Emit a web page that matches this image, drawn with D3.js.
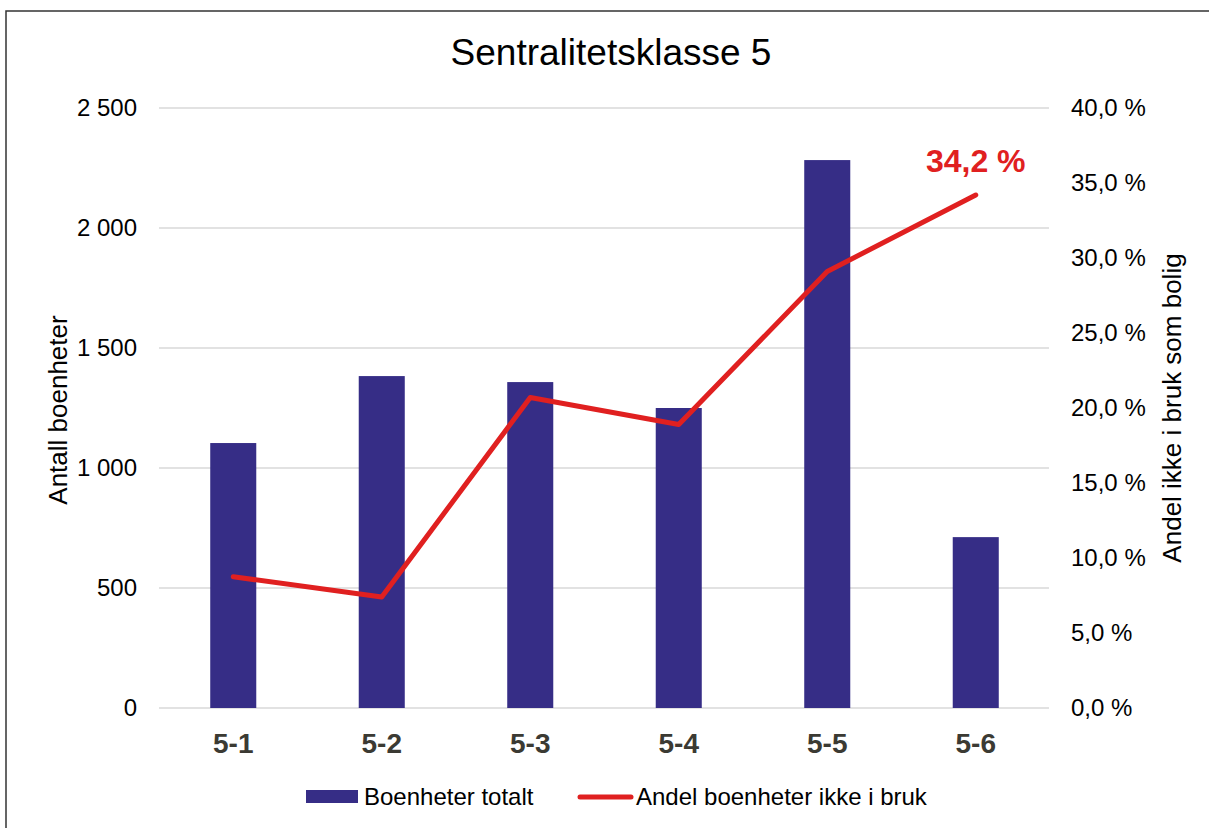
<!DOCTYPE html>
<html>
<head>
<meta charset="utf-8">
<script src="https://cdn.jsdelivr.net/npm/d3@7"></script>
<style>
  body { margin: 0; background: #fff; }
  text { font-family: "Liberation Sans", Arial, sans-serif; }
</style>
</head>
<body>
<div id="chart"></div>
<script>
// data
const categories = ["5-1", "5-2", "5-3", "5-4", "5-5", "5-6"];
const boenheterTotalt = [1104, 1383, 1358, 1250, 2283, 712];
const andelIkkeIBruk = [8.75, 7.4, 20.7, 18.9, 29.1, 34.2];
const leftTicks = [0, 500, 1000, 1500, 2000, 2500];
const rightTicks = [0, 5, 10, 15, 20, 25, 30, 35, 40];

const width = 1209, height = 828;
const margins = { top: 108, bottom: 120, left: 159, right: 159 };

const svg = d3.select("#chart").append("svg")
  .attr("width", width)
  .attr("height", height);

// frame (only top and left edges visible)
svg.append("path")
  .attr("d", "M6,828 V11 H1209")
  .attr("fill", "none")
  .attr("stroke", "#333")
  .attr("stroke-width", 1.5);

/** SCALES */
const xScale = d3.scaleBand()
  .domain(categories)
  .range([margins.left, width - margins.right])
  .paddingInner(0.69)
  .paddingOuter(0.345);

const xPoint = d => xScale(d) + xScale.bandwidth() / 2;

const yLeft = d3.scaleLinear()
  .domain([0, 2500])
  .range([height - margins.bottom, margins.top]);

const yRight = d3.scaleLinear()
  .domain([0, 40])
  .range([height - margins.bottom, margins.top]);

const fmtLeft = d => d3.format(",")(d).replace(",", " ");
const fmtRight = d => d3.format(".1f")(d).replace(".", ",") + " %";

// gridlines
svg.selectAll("line.grid")
  .data(leftTicks)
  .join("line")
  .attr("class", "grid")
  .attr("x1", margins.left)
  .attr("x2", width - margins.right - 1)
  .attr("y1", d => yLeft(d))
  .attr("y2", d => yLeft(d))
  .attr("stroke", "#d9d9d9")
  .attr("stroke-width", 1.5);

// title
svg.append("text")
  .attr("x", 611)
  .attr("y", 65)
  .attr("text-anchor", "middle")
  .attr("font-size", 37)
  .attr("fill", "#000")
  .text("Sentralitetsklasse 5");

// left axis labels
svg.selectAll("text.ltick")
  .data(leftTicks)
  .join("text")
  .attr("class", "ltick")
  .attr("x", 137)
  .attr("y", d => yLeft(d))
  .attr("dy", "0.35em")
  .attr("text-anchor", "end")
  .attr("font-size", 24)
  .attr("fill", "#000")
  .text(fmtLeft);

// right axis labels
svg.selectAll("text.rtick")
  .data(rightTicks)
  .join("text")
  .attr("class", "rtick")
  .attr("x", 1071)
  .attr("y", d => yRight(d))
  .attr("dy", "0.35em")
  .attr("text-anchor", "start")
  .attr("font-size", 24)
  .attr("fill", "#000")
  .text(fmtRight);

// axis titles
svg.append("text")
  .attr("transform", "translate(58,410) rotate(-90)")
  .attr("dy", "0.35em")
  .attr("text-anchor", "middle")
  .attr("font-size", 26)
  .attr("fill", "#000")
  .text("Antall boenheter");

svg.append("text")
  .attr("transform", "translate(1172,408) rotate(-90)")
  .attr("dy", "0.35em")
  .attr("text-anchor", "middle")
  .attr("font-size", 26)
  .attr("fill", "#000")
  .text("Andel ikke i bruk som bolig");

// bars
svg.selectAll("rect.bar")
  .data(categories)
  .join("rect")
  .attr("class", "bar")
  .attr("x", d => xScale(d))
  .attr("width", xScale.bandwidth())
  .attr("y", (d, i) => yLeft(boenheterTotalt[i]))
  .attr("height", (d, i) => yLeft(0) - yLeft(boenheterTotalt[i]))
  .attr("fill", "#362d86");

// category labels
svg.selectAll("text.cat")
  .data(categories)
  .join("text")
  .attr("class", "cat")
  .attr("x", xPoint)
  .attr("y", 753)
  .attr("text-anchor", "middle")
  .attr("font-size", 28)
  .attr("font-weight", "bold")
  .attr("fill", "#3b3a33")
  .text(d => d);

// line
const line = d3.line()
  .x((d, i) => xPoint(categories[i]))
  .y(d => yRight(d));

svg.append("path")
  .datum(andelIkkeIBruk)
  .attr("d", line)
  .attr("fill", "none")
  .attr("stroke", "#e02020")
  .attr("stroke-width", 5)
  .attr("stroke-linecap", "round")
  .attr("stroke-linejoin", "round");

// last value label
const last = andelIkkeIBruk.length - 1;
svg.append("text")
  .attr("x", xPoint(categories[last]))
  .attr("y", yRight(andelIkkeIBruk[last]) - 23)
  .attr("text-anchor", "middle")
  .attr("font-size", 32)
  .attr("font-weight", "bold")
  .attr("fill", "#e02020")
  .text(fmtRight(andelIkkeIBruk[last]));

// legend
const legend = svg.append("g");
legend.append("rect")
  .attr("x", 306).attr("y", 790)
  .attr("width", 52).attr("height", 13)
  .attr("fill", "#362d86");
legend.append("text")
  .attr("x", 364).attr("y", 797)
  .attr("dy", "0.35em")
  .attr("font-size", 24)
  .text("Boenheter totalt");
legend.append("line")
  .attr("x1", 580).attr("x2", 631)
  .attr("y1", 797).attr("y2", 797)
  .attr("stroke", "#e02020")
  .attr("stroke-width", 5)
  .attr("stroke-linecap", "round");
legend.append("text")
  .attr("x", 636).attr("y", 797)
  .attr("dy", "0.35em")
  .attr("font-size", 24)
  .text("Andel boenheter ikke i bruk");
</script>
</body>
</html>
